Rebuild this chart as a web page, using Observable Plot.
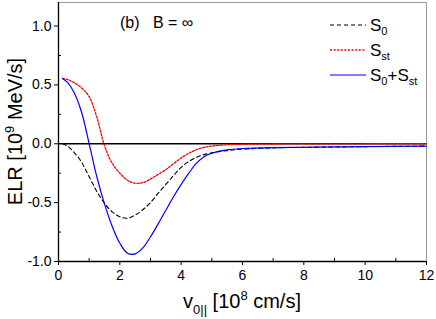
<!DOCTYPE html>
<html><head><meta charset="utf-8">
<script src="https://cdn.jsdelivr.net/npm/d3@7"></script>
<script src="https://cdn.jsdelivr.net/npm/@observablehq/plot@0.6"></script>
<style>body{margin:0;background:#fff}svg{font-family:"Liberation Sans",Arial,sans-serif}</style>
</head><body><div id="chart"></div>
<script>
const velocity = [0.13, 0.3, 0.5, 0.75, 1.0, 1.25, 1.5, 1.75, 2.0, 2.25, 2.5, 2.75, 3.0, 3.25, 3.5, 3.75, 4.0, 4.25, 4.5, 4.75, 5.0, 5.5, 6.0, 7.0, 8.0, 9.0, 10.0, 12.0];
const s0 =  [0, -0.02, -0.07, -0.155, -0.28, -0.405, -0.505, -0.578, -0.62, -0.632, -0.605, -0.56, -0.50, -0.42, -0.345, -0.27, -0.20, -0.15, -0.115, -0.092, -0.077, -0.058, -0.046, -0.035, -0.03, -0.027, -0.024, -0.02];
const sst = [0.555, 0.545, 0.52, 0.475, 0.40, 0.225, -0.015, -0.165, -0.25, -0.31, -0.335, -0.33, -0.30, -0.26, -0.22, -0.17, -0.12, -0.08, -0.05, -0.03, -0.02, -0.008, -0.004, -0.002, -0.001, -0.001, 0, 0];
const sum = [0.555, 0.52, 0.44, 0.27, 0.0, -0.28, -0.51, -0.70, -0.845, -0.93, -0.935, -0.885, -0.79, -0.68, -0.565, -0.45, -0.345, -0.25, -0.165, -0.11, -0.08, -0.052, -0.04, -0.032, -0.03, -0.027, -0.025, -0.02];
const xMajor = [0, 2, 4, 6, 8, 10, 12];
const xMinor = [1, 3, 5, 7, 9, 11];
const yMajor = [-1.0, -0.5, 0.0, 0.5, 1.0];
const yMinor = [-0.75, -0.25, 0.25, 0.75];

const rows = (ys) => velocity.map((v, i) => ({v, y: ys[i]}));
const W = 436, H = 319;
const mL = 58, mR = 10, mT = 2, mB = 58;
const dotted = "2,1.6";
const dashed = "4,3";

const plot = Plot.plot({
  width: W, height: H,
  marginLeft: mL, marginRight: mR, marginTop: mT, marginBottom: mB,
  style: {fontFamily: "Liberation Sans, Arial, sans-serif", fontSize: "14px", color: "#000", background: "#fff"},
  x: {domain: [0, 12]},
  y: {domain: [-1.0, 1.2]},
  marks: [
    Plot.frame({stroke: "#9a9a9a", strokeWidth: 1}),
    Plot.ruleY([0], {stroke: "#000", strokeWidth: 1.3}),
    Plot.line(rows(s0), {x: "v", y: "y", stroke: "#000", strokeWidth: 1.1, strokeDasharray: dashed, curve: "catmull-rom"}),
    Plot.line(rows(sst), {x: "v", y: "y", stroke: "#ff0000", strokeWidth: 1.3, strokeDasharray: dotted, curve: "catmull-rom"}),
    Plot.line(rows(sum), {x: "v", y: "y", stroke: "#0000ff", strokeWidth: 1.2, curve: "catmull-rom"}),
    Plot.ruleX([0], {stroke: "#000", strokeWidth: 1.3}),
    Plot.ruleY([-1.0], {stroke: "#000", strokeWidth: 1.3}),
    Plot.axisX({ticks: xMajor, tickSize: 4, tickPadding: 5, tickFormat: d => String(d), label: null, fontSize: 14}),
    Plot.axisX({ticks: xMinor, tickSize: -3, tickFormat: () => "", label: null}),
    Plot.axisY({ticks: yMajor, tickSize: 4, tickPadding: 3, tickFormat: d => d.toFixed(1), label: null, fontSize: 14}),
    Plot.axisY({ticks: yMinor, tickSize: -3, tickFormat: () => "", label: null})
  ]
});
document.getElementById("chart").appendChild(plot);

const svg = d3.select(plot);
const font = "Liberation Sans, Arial, sans-serif";
// y-axis label
const yl = svg.append("text").attr("transform", `translate(22,${(mT + H - mB) / 2}) rotate(-90)`)
  .attr("text-anchor", "middle").attr("font-size", 20).attr("font-family", font).attr("fill", "#000");
yl.append("tspan").text("ELR [10");
yl.append("tspan").attr("font-size", 13).attr("dy", -8).text("9");
yl.append("tspan").attr("dy", 8).text(" MeV/s]");
// x-axis label
const xl = svg.append("text").attr("x", (mL + W - mR) / 2).attr("y", 308)
  .attr("text-anchor", "middle").attr("font-size", 20).attr("font-family", font).attr("fill", "#000");
xl.append("tspan").text("v");
xl.append("tspan").attr("font-size", 13).attr("dy", 6).text("0||");
xl.append("tspan").attr("dy", -6).text(" [10");
xl.append("tspan").attr("font-size", 13).attr("dy", -8).text("8");
xl.append("tspan").attr("dy", 8).text(" cm/s]");
// panel annotation
svg.append("text").attr("x", 120).attr("y", 28).attr("font-size", 16).attr("font-family", font)
  .attr("text-anchor", "start").attr("fill", "#000").attr("xml:space", "preserve").text("(b)   B = \u221E");
// legend
const leg = [
  {stroke: "#000", dash: dashed, w: 1.1, subs: ["0"]},
  {stroke: "#ff0000", dash: dotted, w: 1.3, subs: ["st"]},
  {stroke: "#0000ff", dash: null, w: 1.2, subs: ["0", "st"]}
];
leg.forEach((d, i) => {
  const y = 25 + i * 25;
  svg.append("line").attr("x1", 330).attr("x2", 366).attr("y1", y).attr("y2", y)
    .attr("stroke", d.stroke).attr("stroke-width", d.w).attr("stroke-dasharray", d.dash);
  const t = svg.append("text").attr("x", 370).attr("y", y + 6).attr("font-size", 17).attr("font-family", font)
    .attr("text-anchor", "start").attr("fill", "#000");
  t.append("tspan").text("S");
  t.append("tspan").attr("font-size", 11).attr("dy", 4).text(d.subs[0]);
  if (d.subs.length > 1) {
    t.append("tspan").attr("dy", -4).text("+S");
    t.append("tspan").attr("font-size", 11).attr("dy", 4).text(d.subs[1]);
  }
});
</script></body></html>
